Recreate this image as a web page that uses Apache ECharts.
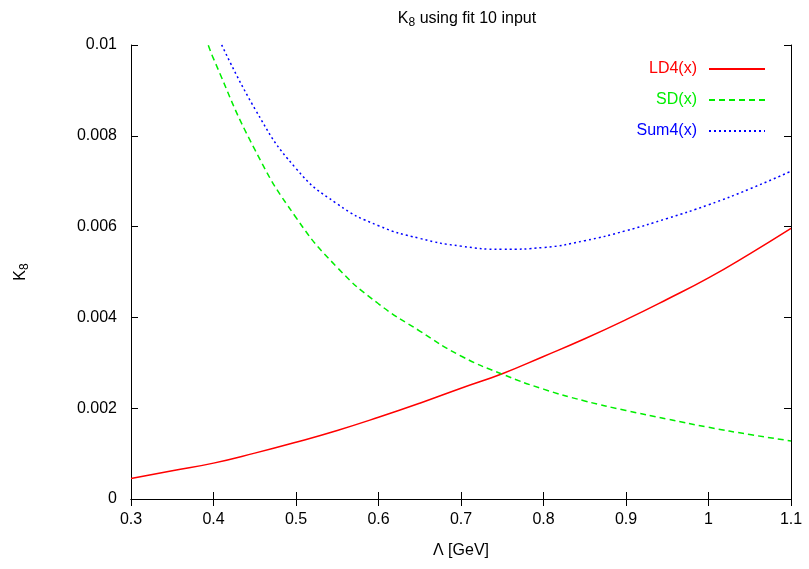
<!DOCTYPE html>
<html>
<head>
<meta charset="utf-8">
<script src="https://cdn.jsdelivr.net/npm/echarts@6/dist/echarts.min.js"></script>
<style>html,body{margin:0;padding:0;background:#fff;}#c{width:809px;height:569px;}</style>
</head>
<body>
<div id="c"></div>
<script>
const seriesNames = ['LD4(x)', 'SD(x)', 'Sum4(x)'];
const ldX = [0.30, 0.35, 0.40, 0.45, 0.50, 0.55, 0.60, 0.65, 0.70, 0.75, 0.80, 0.85, 0.90, 0.95, 1.00, 1.05, 1.10];
const ldY = [0.00045, 0.00062, 0.00079, 0.00101, 0.00125, 0.00151, 0.00180, 0.00211, 0.00244, 0.00276, 0.00314, 0.00353, 0.00395, 0.00440, 0.00487, 0.00540, 0.00596];
const sdX = [0.39, 0.40, 0.45, 0.50, 0.55, 0.60, 0.65, 0.70, 0.75, 0.80, 0.85, 0.90, 0.95, 1.00, 1.05, 1.10];
const sdY = [0.0102, 0.0097, 0.0077, 0.0062, 0.0051, 0.0043, 0.0037, 0.00315, 0.00275, 0.00242, 0.00216, 0.00195, 0.00176, 0.00158, 0.00142, 0.00128];
const sumX = [0.40, 0.45, 0.50, 0.55, 0.60, 0.65, 0.70, 0.75, 0.80, 0.85, 0.90, 0.95, 1.00, 1.05, 1.10];
const sumY = [0.0104, 0.0086, 0.00728, 0.00650, 0.00602, 0.00574, 0.00557, 0.00550, 0.00554, 0.00569, 0.00591, 0.00618, 0.00648, 0.00683, 0.00722];
const xTicks = {min: 0.3, max: 1.1, interval: 0.1};
const yTicks = {min: 0, max: 0.01, interval: 0.002};
const colors = ['#ff0000', '#00ee00', '#0000ff'];

const pair = (xs, ys) => xs.map((x, i) => [x, ys[i]]);
const font = 'Liberation Sans, Arial, Helvetica, sans-serif';
const fmt = v => String(+(+v).toFixed(4));

const chart = echarts.init(document.getElementById('c'), null, {renderer: 'canvas'});
const axisBase = {
  axisLine: {show: true, lineStyle: {color: '#000', width: 1}},
  axisTick: {show: true, inside: true, length: 7, lineStyle: {color: '#000', width: 1}},
  splitLine: {show: false}
};
chart.setOption({
  animation: false,
  backgroundColor: '#fff',
  title: {
    text: '{a|K}{s|8}{a| using fit 10 input}',
    left: 462, top: 3, textAlign: 'center',
    textStyle: {fontWeight: 'normal', rich: {
      a: {fontFamily: font, fontSize: 16, fontWeight: 'normal', color: '#000'},
      s: {fontFamily: font, fontSize: 12, fontWeight: 'normal', color: '#000', verticalAlign: 'bottom', padding: [9, 0, 0, 0]}
    }}
  },
  legend: {
    orient: 'vertical', right: 38, top: 56, align: 'right',
    itemWidth: 56, itemHeight: 14, itemGap: 15,
    itemStyle: {opacity: 0},
    data: seriesNames.map((n, i) => ({name: n, textStyle: {color: colors[i]}})),
    textStyle: {fontFamily: font, fontSize: 16, padding: [0, 7, 0, 0]}
  },
  grid: {left: 131, right: 18, top: 45, bottom: 70, containLabel: false},
  xAxis: [
    Object.assign({type: 'value', position: 'bottom', min: xTicks.min, max: xTicks.max, interval: xTicks.interval,
      name: 'Λ [GeV]', nameLocation: 'middle', nameGap: 44,
      nameTextStyle: {fontFamily: font, fontSize: 16, color: '#000'},
      axisLabel: {fontFamily: font, fontSize: 16, color: '#000', margin: 13, formatter: fmt}}, axisBase),
    Object.assign({type: 'value', position: 'top', min: xTicks.min, max: xTicks.max, interval: xTicks.interval,
      axisLabel: {show: false}}, axisBase)
  ],
  yAxis: [
    Object.assign({type: 'value', position: 'left', min: yTicks.min, max: yTicks.max, interval: yTicks.interval,
      name: '{a|K}{s|8}', nameLocation: 'middle', nameGap: 100, nameRotate: 90,
      nameTextStyle: {rich: {
        a: {fontFamily: font, fontSize: 16, color: '#000'},
        s: {fontFamily: font, fontSize: 12, color: '#000', verticalAlign: 'bottom', padding: [8, 0, 0, 0]}
      }},
      axisLabel: {fontFamily: font, fontSize: 16, color: '#000', margin: 14, formatter: fmt}}, axisBase),
    Object.assign({type: 'value', position: 'right', min: yTicks.min, max: yTicks.max, interval: yTicks.interval,
      axisLabel: {show: false}}, axisBase)
  ],
  series: [
    {name: seriesNames[0], type: 'line', data: pair(ldX, ldY), symbol: 'none', smooth: true, clip: true,
      lineStyle: {color: colors[0], width: 1.5, type: 'solid'}, itemStyle: {color: colors[0]}},
    {name: seriesNames[1], type: 'line', data: pair(sdX, sdY), symbol: 'none', smooth: true, clip: true,
      lineStyle: {color: colors[1], width: 1.5, type: [6, 4]}, itemStyle: {color: colors[1]}},
    {name: seriesNames[2], type: 'line', data: pair(sumX, sumY), symbol: 'none', smooth: true, clip: true,
      lineStyle: {color: colors[2], width: 1.5, type: [2, 3]}, itemStyle: {color: colors[2]}}
  ]
});
</script>
</body>
</html>
